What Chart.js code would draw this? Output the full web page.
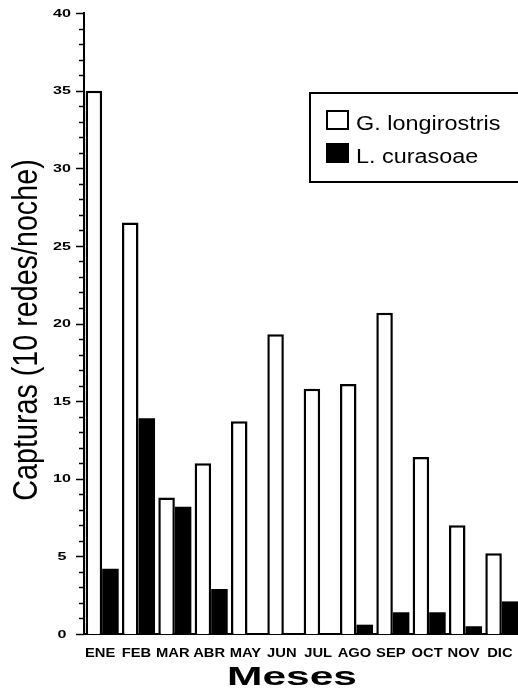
<!DOCTYPE html>
<html>
<head>
<meta charset="utf-8">
<script src="https://cdn.jsdelivr.net/npm/chart.js@4"></script>
<style>
  html, body { margin: 0; padding: 0; background: #fff; overflow: hidden; }
  #wrap { width: 518px; height: 689px; overflow: hidden; }
</style>
</head>
<body>
<div id="wrap"><canvas id="c" width="524" height="689"></canvas></div>
<script>
// ---- data ----
const months = ['ENE','FEB','MAR','ABR','MAY','JUN','JUL','AGO','SEP','OCT','NOV','DIC'];
const gLongirostris = [35.0, 26.5, 8.8, 11.0, 13.7, 19.3, 15.8, 16.1, 20.7, 11.4, 7.0, 5.2];
const lCurasoae = [4.2, 13.9, 8.2, 2.9, 0, 0, 0, 0.6, 1.4, 1.4, 0.5, 2.1];
const seriesNames = ['G. longirostris', 'L. curasoae'];
const yTickValues = [0, 5, 10, 15, 20, 25, 30, 35, 40];
const yTitle = 'Capturas (10 redes/noche)';
const xTitle = 'Meses';

function stretchText(ctx, s, x, y, font, sx, align, baseline, rot) {
  ctx.save();
  ctx.font = font;
  ctx.fillStyle = '#000';
  ctx.textAlign = align;
  ctx.textBaseline = baseline;
  ctx.translate(x, y);
  if (rot) ctx.rotate(rot);
  ctx.scale(sx, 1);
  ctx.fillText(s, 0, 0);
  ctx.restore();
}

const decor = {
  id: 'decor',
  afterDraw(chart) {
    const ctx = chart.ctx;
    const ys = chart.scales.y, xs = chart.scales.x;
    const axX = chart.chartArea.left;
    // y ticks: minor every 1, major every 5
    ctx.save();
    ctx.strokeStyle = '#000';
    ctx.lineWidth = 1.5;
    for (let v = ys.min; v <= ys.max; v++) {
      const py = Math.round(ys.getPixelForValue(v)) + 0.5;
      const len = (v % 5 === 0) ? 8 : 5;
      ctx.beginPath();
      ctx.moveTo(axX - len, py);
      ctx.lineTo(axX, py);
      ctx.stroke();
    }
    ctx.restore();
    // y tick labels
    yTickValues.forEach(v => {
      stretchText(ctx, String(v), 62, ys.getPixelForValue(v) + 0.5,
        'bold 11.5px "Liberation Sans", Arial, sans-serif', 1.4, 'center', 'middle');
    });
    // x tick labels
    months.forEach((m, i) => {
      stretchText(ctx, m, xs.getPixelForValue(i) - 2, 657,
        'bold 12.5px "Liberation Sans", Arial, sans-serif', 1.18, 'center', 'alphabetic');
    });
    // axis titles
    stretchText(ctx, xTitle, 292, 685,
      'bold 25px "Liberation Sans", Arial, sans-serif', 1.7, 'center', 'alphabetic');
    stretchText(ctx, yTitle, 37, 330,
      '35px "Liberation Sans", Arial, sans-serif', 0.82, 'center', 'alphabetic', -Math.PI / 2);
    // legend box
    ctx.save();
    ctx.strokeStyle = '#000';
    ctx.lineWidth = 2;
    ctx.strokeRect(310, 93, 230, 89);
    const ds = chart.data.datasets;
    const rows = [{y: 111, base: 130}, {y: 144, base: 163}];
    ds.forEach((d, i) => {
      const r = rows[i];
      ctx.fillStyle = d.backgroundColor;
      ctx.fillRect(327, r.y, 21, 18);
      ctx.lineWidth = 2;
      ctx.strokeStyle = '#000';
      ctx.strokeRect(327, r.y, 21, 18);
      stretchText(ctx, d.label, 356, r.base,
        '20px "Liberation Sans", Arial, sans-serif', 1.17, 'left', 'alphabetic');
    });
    ctx.restore();
  }
};

new Chart(document.getElementById('c'), {
  type: 'bar',
  data: {
    labels: months,
    datasets: [
      { label: seriesNames[0], data: gLongirostris, backgroundColor: '#ffffff',
        borderColor: '#000000', borderWidth: 2.5 },
      { label: seriesNames[1], data: lCurasoae, backgroundColor: '#000000',
        borderColor: '#000000', borderWidth: 0 }
    ]
  },
  options: {
    responsive: false,
    animation: false,
    devicePixelRatio: 1,
    layout: { padding: { top: 13, right: 4, left: 0, bottom: 0 } },
    datasets: { bar: { categoryPercentage: 0.91, barPercentage: 1.0 } },
    plugins: { legend: { display: false }, tooltip: { enabled: false } },
    scales: {
      x: {
        grid: { display: false },
        border: { display: true, color: '#000', width: 2 },
        ticks: { display: false },
        title: { display: false, text: xTitle },
        afterFit(s) { s.height = 55; }
      },
      y: {
        min: 0, max: 40,
        grid: { display: false },
        border: { display: true, color: '#000', width: 2 },
        ticks: { display: false, stepSize: 1 },
        title: { display: false, text: yTitle },
        afterFit(s) { s.width = 84; }
      }
    }
  },
  plugins: [decor]
});
</script>
</body>
</html>
